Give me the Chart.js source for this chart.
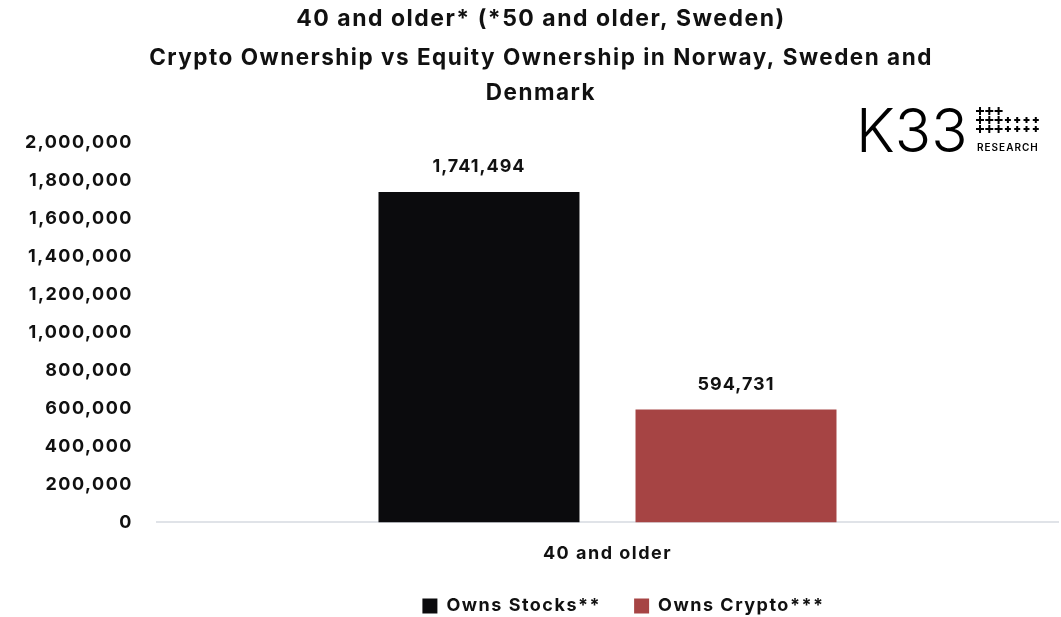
<!DOCTYPE html>
<html>
<head>
<meta charset="utf-8">
<script src="https://cdn.jsdelivr.net/npm/chart.js@4"></script>
<style>
  html, body { margin: 0; padding: 0; background: #fff; }
  #wrap { width: 1061px; height: 617px; }
</style>
</head>
<body>
<div id="wrap"><canvas id="myChart" width="1061" height="617"></canvas></div>
<script>
const categories = ['40 and older'];
const seriesNames = ['Owns Stocks**', 'Owns Crypto***'];
const ownsStocks = [1741494];
const ownsCrypto = [594731];
const titleLine = '40 and older* (*50 and older, Sweden)';
const subtitleLines = ['Crypto Ownership vs Equity Ownership in Norway, Sweden and', 'Denmark'];

const fmt = new Intl.NumberFormat('en-US');
const FONT = 'Inter, "Noto Sans", sans-serif';

// the reference lettering is wider than Inter, so space it out a little
const spacing = {
    id: 'spacing',
    beforeUpdate(chart) { chart.ctx.letterSpacing = '1.5px'; },
    beforeDraw(chart) { chart.ctx.letterSpacing = '1.5px'; },
    afterLayout(chart) {
        // legend sits a bit right of the plot centre in the original
        chart.legend.left += 16;
        chart.legend.right += 16;
    }
};

// value labels above the bars
const barLabels = {
    id: 'barLabels',
    afterDatasetsDraw(chart) {
        const ctx = chart.ctx;
        ctx.save();
        ctx.font = 'bold 18px ' + FONT;
        ctx.letterSpacing = '1px';
        ctx.fillStyle = '#111';
        ctx.textAlign = 'center';
        ctx.textBaseline = 'middle';
        chart.data.datasets.forEach((ds, i) => {
            chart.getDatasetMeta(i).data.forEach((bar, j) => {
                ctx.fillText(fmt.format(ds.data[j]), bar.x, bar.y - 25);
            });
        });
        ctx.restore();
    }
};

// K33 Research logo, top right
const logo = {
    id: 'logo',
    afterDraw(chart) {
        const ctx = chart.ctx;
        ctx.save();
        ctx.fillStyle = '#000';
        ctx.strokeStyle = '#000';
        ctx.letterSpacing = '0px';
        ctx.font = '300 60px ' + FONT;
        ctx.textBaseline = 'alphabetic';
        ctx.textAlign = 'left';
        ctx.fillText('K33', 856, 152);
        const rows = [3, 7, 7];
        ctx.lineWidth = 2;
        rows.forEach((n, r) => {
            for (let c = 0; c < n; c++) {
                const x = 980 + c * 9.3, y = 111 + r * 9;
                const s = c < 3 ? 4 : 3;
                ctx.beginPath();
                ctx.moveTo(x - s, y); ctx.lineTo(x + s, y);
                ctx.moveTo(x, y - s); ctx.lineTo(x, y + s);
                ctx.stroke();
            }
        });
        ctx.font = '600 10px ' + FONT;
        ctx.letterSpacing = '1px';
        ctx.fillText('RESEARCH', 977, 151);
        ctx.restore();
    }
};

const ctx = document.getElementById('myChart').getContext('2d');
const myChart = new Chart(ctx, {
    type: 'bar',
    data: {
        labels: categories,
        datasets: [{
            label: seriesNames[0],
            data: ownsStocks,
            backgroundColor: '#0b0b0d'
        }, {
            label: seriesNames[1],
            data: ownsCrypto,
            backgroundColor: '#a64444'
        }]
    },
    options: {
        responsive: false,
        animation: false,
        layout: { padding: { left: 24, right: 3, top: 4, bottom: -8 } },
        datasets: {
            bar: { categoryPercentage: 0.5705, barPercentage: 0.782 }
        },
        scales: {
            x: {
                grid: { display: false, drawTicks: false },
                border: { color: '#e0e3e8', width: 2 },
                ticks: { color: '#111', font: { family: FONT, size: 18, weight: 'bold' }, padding: 20 },
                afterFit: scale => { scale.height -= 20; }
            },
            y: {
                min: 0,
                max: 2000000,
                grid: { display: false, drawTicks: false },
                border: { display: false },
                ticks: {
                    stepSize: 200000,
                    color: '#111',
                    padding: 24,
                    font: { family: FONT, size: 18, weight: 'bold' },
                    callback: v => fmt.format(v)
                },
                afterFit: scale => { scale.width = 133; }
            }
        },
        plugins: {
            title: {
                display: true,
                text: titleLine,
                color: '#111',
                font: { family: FONT, size: 23, weight: 'bold' },
                padding: { top: 1, bottom: 9 }
            },
            subtitle: {
                display: true,
                text: subtitleLines,
                color: '#111',
                font: { family: FONT, size: 22.5, weight: 'bold', lineHeight: 1.52 },
                padding: { top: 0, bottom: 33 }
            },
            legend: {
                position: 'bottom',
                fullSize: false,
                labels: {
                    boxWidth: 15,
                    boxHeight: 15,
                    padding: 33,
                    color: '#111',
                    font: { family: FONT, size: 18, weight: 'bold' }
                }
            },
            tooltip: { enabled: false }
        }
    },
    plugins: [spacing, barLabels, logo]
});
</script>
</body>
</html>
